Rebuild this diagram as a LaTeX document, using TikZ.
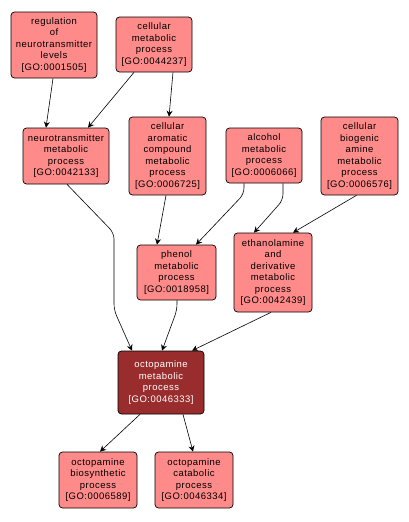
\documentclass[tikz,border=0pt]{standalone}
\usepackage{fontspec}
\setmainfont{Liberation Sans}[LetterSpace=5]
\usetikzlibrary{arrows.meta}
\definecolor{lightbox}{RGB}{255,138,138}
\definecolor{darkbox}{RGB}{153,45,45}
\begin{document}
\begin{tikzpicture}[x=1pt,y=1pt,
  gobox/.style={draw=black,line width=0.7pt,rounded corners=3.5pt,fill=lightbox,align=center,inner sep=0pt,
    font=\fontsize{9.5}{11.5}\selectfont,text=black},
  hibox/.style={gobox,fill=darkbox,text=white},
  arr/.style={draw=black,line width=0.6pt,-{Stealth[length=6pt,width=6pt,inset=2pt]},rounded corners=6pt}]
\useasboundingbox (0,0) rectangle (409,-522);
\node[gobox,minimum width=86,minimum height=66] (reg) at (54,-45) {regulation\\of\\neurotransmitter\\levels\\{[GO:0001505]}};
\node[gobox,minimum width=76,minimum height=55] (cmp) at (154,-44.5) {cellular\\metabolic\\process\\{[GO:0044237]}};
\node[gobox,minimum width=86,minimum height=56] (ntm) at (66,-156) {neurotransmitter\\metabolic\\process\\{[GO:0042133]}};
\node[gobox,minimum width=77,minimum height=78] (cac) at (167.5,-156) {cellular\\aromatic\\compound\\metabolic\\process\\{[GO:0006725]}};
\node[gobox,minimum width=76,minimum height=55] (alc) at (264,-155.5) {alcohol\\metabolic\\process\\{[GO:0006066]}};
\node[gobox,minimum width=77,minimum height=78] (cba) at (359.5,-156) {cellular\\biogenic\\amine\\metabolic\\process\\{[GO:0006576]}};
\node[gobox,minimum width=79,minimum height=55] (phe) at (176.5,-272.5) {phenol\\metabolic\\process\\{[GO:0018958]}};
\node[gobox,minimum width=78,minimum height=79] (eth) at (273,-272.5) {ethanolamine\\and\\derivative\\metabolic\\process\\{[GO:0042439]}};
\node[hibox,minimum width=86,minimum height=63] (oct) at (161,-382.5) {octopamine\\metabolic\\process\\{[GO:0046333]}};
\node[gobox,minimum width=78,minimum height=56] (bio) at (98,-480) {octopamine\\biosynthetic\\process\\{[GO:0006589]}};
\node[gobox,minimum width=78,minimum height=56] (cat) at (194,-480) {octopamine\\catabolic\\process\\{[GO:0046334]}};
\draw[arr] ([xshift=-1pt]reg.south) -- ([xshift=-20pt]ntm.north);
\draw[arr] ([xshift=-20pt]cmp.south) -- ([xshift=22pt]ntm.north);
\draw[arr] ([xshift=19pt]cmp.south) -- ([xshift=1.5pt]cac.north);
\draw[arr] ([xshift=1pt]ntm.south) -- (114,-233) -- (114,-310) -- ([xshift=-29pt]oct.north);
\draw[arr] ([xshift=-1.5pt]cac.south) -- ([xshift=-19.5pt]phe.north);
\draw[arr] ([xshift=-20pt]alc.south) -- (244,-194) -- ([xshift=19.5pt]phe.north);
\draw[arr] ([xshift=19pt]alc.south) -- (283,-200) -- ([xshift=-19pt]eth.north);
\draw[arr] ([xshift=-3pt]cba.south) -- ([xshift=20pt]eth.north);
\draw[arr] ([xshift=0.5pt]phe.south) -- (177,-310) -- ([xshift=1pt]oct.north);
\draw[arr] ([xshift=-2pt]eth.south) -- ([xshift=31pt]oct.north);
\draw[arr] ([xshift=-21pt]oct.south) -- ([xshift=2pt]bio.north);
\draw[arr] ([xshift=22pt]oct.south) -- ([xshift=-1pt]cat.north);
\end{tikzpicture}
\end{document}
